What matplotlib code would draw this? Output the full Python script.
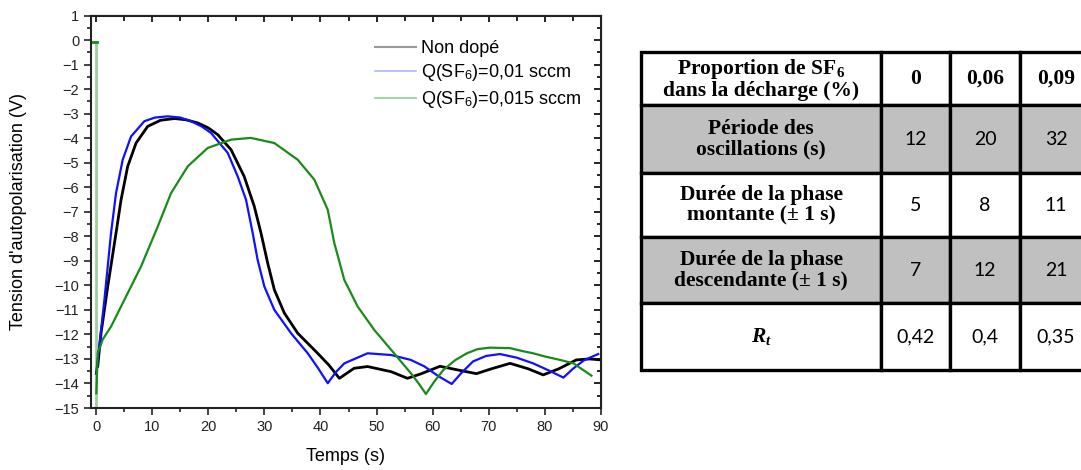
import matplotlib
matplotlib.use("Agg")
import matplotlib.pyplot as plt
from matplotlib.lines import Line2D
from matplotlib.ticker import MultipleLocator

plt.rcParams['font.family'] = ['Liberation Sans', 'DejaVu Sans']
plt.rcParams['mathtext.fontset'] = 'custom'
plt.rcParams['mathtext.rm'] = 'Liberation Serif:bold'
plt.rcParams['mathtext.bf'] = 'Liberation Serif:bold'
plt.rcParams['mathtext.it'] = 'Liberation Serif:italic:bold'
plt.rcParams['mathtext.sf'] = 'Liberation Sans'

# --- curve data ---
t_black = [0.3, 0.89, 2.08, 3.56, 4.46, 5.64, 7.13, 9.2, 11.5, 13.96, 16.0, 18.12, 20.0, 21.7,
           24.06, 26.4, 28.2, 29.4, 30.6, 31.78, 33.56, 35.94, 39.5, 41.5, 43.37, 46.0, 48.4,
           52.6, 55.5, 58.0, 61.3, 64.5, 67.8, 70.5, 73.8, 77.0, 79.7, 82.5, 85.6, 88.0, 90.0]
v_black = [-13.3, -11.95, -10.05, -7.87, -6.51, -5.15, -4.2, -3.52, -3.27, -3.2, -3.25, -3.38, -3.58, -3.86,
           -4.47, -5.56, -6.78, -7.87, -9.1, -10.18, -11.13, -11.95, -12.77, -13.25, -13.79, -13.38, -13.31,
           -13.52, -13.79, -13.6, -13.3, -13.45, -13.6, -13.4, -13.18, -13.4, -13.65, -13.4, -13.04, -13.0, -13.04]

t_blue = [0.0, 0.3, 1.49, 2.67, 3.56, 4.75, 6.24, 8.61, 10.5, 12.77, 15.0, 16.93, 18.8, 20.5,
          23.47, 25.25, 26.73, 27.92, 28.8, 30.0, 31.78, 34.75, 37.73, 39.5, 41.3, 42.7, 44.25,
          48.4, 52.6, 56.1, 58.5, 61.0, 63.4, 65.0, 67.2, 69.5, 72.0, 75.0, 77.9, 80.5, 83.3,
          85.0, 87.0, 89.5]
v_blue = [-13.6, -13.04, -10.59, -7.87, -6.24, -4.88, -3.93, -3.31, -3.16, -3.11, -3.16, -3.31, -3.52, -3.79,
          -4.6, -5.56, -6.51, -7.87, -8.96, -10.05, -11.0, -11.95, -12.77, -13.35, -13.99, -13.55, -13.18,
          -12.77, -12.84, -13.04, -13.3, -13.7, -14.02, -13.6, -13.1, -12.88, -12.8, -12.95, -13.18, -13.45, -13.76,
          -13.4, -13.05, -12.8]

t_green = [0.05, 0.3, 1.2, 2.67, 5.05, 8.02, 11.0, 13.37, 16.34, 19.9, 24.06, 27.6, 31.78,
           35.94, 38.9, 41.3, 42.47, 44.25, 46.64, 49.6, 52.6, 56.1, 57.5, 58.8, 60.2, 61.9, 64.0,
           66.1, 68.0, 70.2, 72.0, 73.8, 76.0, 77.9, 80.0, 82.7, 85.1, 86.5, 88.3]
v_green = [-14.4, -12.77, -12.2, -11.68, -10.59, -9.23, -7.6, -6.24, -5.15, -4.4, -4.06, -3.99, -4.2,
           -4.88, -5.69, -6.92, -8.28, -9.78, -10.87, -11.82, -12.63, -13.58, -14.0, -14.43, -13.95, -13.45, -13.05,
           -12.77, -12.6, -12.54, -12.55, -12.56, -12.68, -12.77, -12.9, -13.04, -13.18, -13.4, -13.68]

# green trace before the start (flat at ~0 V, then the jump at t = 0)
t_green_pre = [-0.9, 0.1]
v_green_pre = [-0.1, -0.1]
t_green_jump = [0.0, 0.0]
v_green_jump = [-0.1, -15.0]

legend_labels = ['Non dopé', 'Q(SF$_\\mathsf{6}$)=0,01 sccm', 'Q(SF$_\\mathsf{6}$)=0,015 sccm']

# --- table data ---
row_labels = ['Proportion de SF$_6$\ndans la décharge (%)',
              'Période des\noscillations (s)',
              'Durée de la phase\nmontante (± 1 s)',
              'Durée de la phase\ndescendante (± 1 s)',
              '$R_t$']
col_values = [['0', '0,06', '0,09'],
              ['12', '20', '32'],
              ['5', '8', '11'],
              ['7', '12', '21'],
              ['0,42', '0,4', '0,35']]

W, H = 1081, 470
fig = plt.figure(figsize=(W / 100, H / 100), dpi=100)

ax = fig.add_axes([91 / W, 1 - 408 / H, (601 - 91) / W, (408 - 15.5) / H])
ax.plot(t_green_jump, v_green_jump, color='#9ccf9c', lw=2.0)
ax.plot(t_green_pre, v_green_pre, color='#1a8a1a', lw=2.0)
ax.plot(t_black, v_black, color='black', lw=2.0)
ax.plot(t_blue, v_blue, color='#1010ff', lw=1.6)
ax.plot(t_green, v_green, color='#1a8a1a', lw=1.6)

ax.set_xlim(-0.9, 90)
ax.set_ylim(-15, 1)
ax.xaxis.set_major_locator(MultipleLocator(10))
ax.xaxis.set_minor_locator(MultipleLocator(5))
ax.yaxis.set_major_locator(MultipleLocator(1))
ax.yaxis.set_minor_locator(MultipleLocator(0.5))
ax.tick_params(which='both', direction='out', labelsize=10.5, colors='#222222', width=1.2)
ax.tick_params(which='major', length=5)
ax.tick_params(which='minor', length=3)
for s in ax.spines.values():
    s.set_linewidth(1.5)
    s.set_color('#222222')

# inward ticks on the top and right edges
top = ax.secondary_xaxis('top')
top.xaxis.set_major_locator(MultipleLocator(10))
top.xaxis.set_minor_locator(MultipleLocator(5))
top.tick_params(which='both', direction='in', labeltop=False, width=1.2)
top.tick_params(which='major', length=5)
top.tick_params(which='minor', length=4)
right = ax.secondary_yaxis('right')
right.yaxis.set_major_locator(MultipleLocator(1))
right.yaxis.set_minor_locator(MultipleLocator(0.5))
right.tick_params(which='both', direction='in', labelright=False, width=1.2)
right.tick_params(which='major', length=5)
right.tick_params(which='minor', length=3)

ax.set_xlabel('Temps (s)', fontsize=13, labelpad=10)
ax.set_ylabel("Tension d'autopolarisation (V)", fontsize=13, labelpad=20)

handles = [Line2D([], [], color='#9a9a9a', lw=1.5),
           Line2D([], [], color='#aab4ff', lw=1.2),
           Line2D([], [], color='#a6d6a6', lw=1.5)]
ax.legend(handles, legend_labels, loc='upper left', frameon=False, fontsize=13,
          bbox_to_anchor=(366 / W, 1 - 31 / H), bbox_transform=fig.transFigure,
          borderpad=0, handlelength=2.25, handletextpad=0.3, labelspacing=0.3)

# --- table ---
tax = fig.add_axes([641 / W, 1 - 370 / H, (1092 - 641) / W, (370 - 52) / H])
tax.axis('off')
grey = '#c0c0c0'
colours = []
for i in range(len(row_labels)):
    c = grey if i in (1, 3) else 'white'
    colours.append([c] * 4)
cells = [[row_labels[i]] + col_values[i] for i in range(len(row_labels))]
tab = tax.table(cellText=cells, cellColours=colours, cellLoc='center', bbox=[0, 0, 1, 1])
tab.auto_set_font_size(False)
col_w = [240, 69, 70, 72]
row_h = [53, 68, 64, 66, 67]
for (r, c), cell in tab.get_celld().items():
    cell.set_width(col_w[c])
    cell.set_height(row_h[r])
    cell.set_linewidth(2.4)
    cell.set_edgecolor('black')
    txt = cell.get_text()
    txt.set_linespacing(1.0)
    if c == 0 or r == 0:
        txt.set_fontfamily('Liberation Serif')
        txt.set_fontweight('bold')
        txt.set_fontsize(15.5)
    else:
        txt.set_fontfamily('Lato')
        txt.set_fontsize(14)

fig.savefig('out.png', dpi=100, facecolor='white')
